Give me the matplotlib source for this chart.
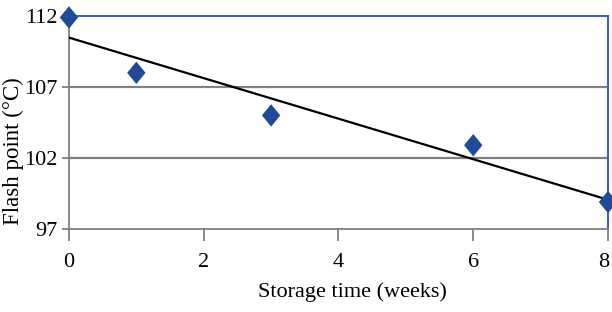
"""Flash point versus storage time with a linear trend line."""

import matplotlib

matplotlib.use("Agg")
import matplotlib.pyplot as plt
import matplotlib.transforms as mtransforms
import numpy as np
from matplotlib.path import Path

storage_weeks = [0, 1, 3, 6, 8]
flash_point = [111.9, 108.0, 105.0, 102.9, 98.9]
x_ticks = [0, 2, 4, 6, 8]
y_ticks = [97, 102, 107, 112]

plt.rcParams["font.family"] = ["Liberation Serif", "DejaVu Serif"]

fig = plt.figure(figsize=(6.12, 3.12), dpi=100)
ax = fig.add_axes([0.1127, 0.266, 0.8808, 0.6827])

# slightly tall diamond, like the spreadsheet marker
diamond = Path([(0, 1), (0.82, 0), (0, -1), (-0.82, 0), (0, 1)],
               [Path.MOVETO, Path.LINETO, Path.LINETO, Path.LINETO, Path.CLOSEPOLY])

slope, intercept = np.polyfit(storage_weeks, flash_point, 1)
fit_x = np.array([0, 8])
ax.plot(fit_x, slope * fit_x + intercept, color="black", linewidth=1.6, zorder=3)

ax.scatter(storage_weeks, flash_point, marker=diamond, s=260, color="#1f4a98",
           edgecolors="none", zorder=4, clip_on=False)

ax.set_xlim(0, 8)
ax.set_ylim(97, 112)
ax.set_xticks(x_ticks)
ax.set_yticks(y_ticks)
for y in [102, 107]:
    ax.axhline(y, color="#808080", linewidth=1.6, zorder=1)

for side in ["left", "bottom"]:
    ax.spines[side].set_color("#808080")
    ax.spines[side].set_linewidth(1.3)
for side in ["top", "right"]:
    ax.spines[side].set_color("#3a66b8")
    ax.spines[side].set_linewidth(1.5)

ax.tick_params(axis="x", direction="out", length=8.5, width=1.3, color="#808080",
               labelsize=16, pad=9)
ax.tick_params(axis="y", direction="out", length=5, width=1.3, color="#808080",
               labelsize=16, pad=3)
ax.set_xlabel("Storage time (weeks)", fontsize=16)
ax.set_ylabel("Flash point (°C)", fontsize=16.5)
ax.xaxis.set_label_coords(0.526, -0.25)
ax.yaxis.set_label_coords(-0.084, 0.366)

# nudge the last x label so it stays inside the figure
last = ax.get_xticklabels()[-1]
last.set_transform(last.get_transform() + mtransforms.ScaledTranslation(-4 / 100, 0, fig.dpi_scale_trans))

fig.savefig("out.png", dpi=100)
